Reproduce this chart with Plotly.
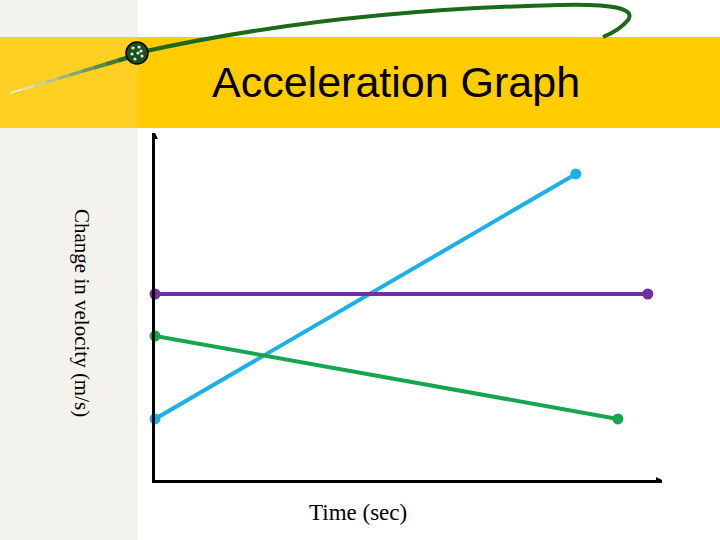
import plotly.graph_objects as go
import numpy as np

# ---- data ----
series_names = ["Increasing", "Constant", "Decreasing"]
time_blue = [0, 8.3]
vel_blue = [1.76, 8.82]
time_purple = [0, 9.72]
vel_purple = [5.36, 5.36]
time_green = [0, 9.13]
vel_green = [4.15, 1.76]

title_text = "Acceleration Graph"
x_label = "Time (sec)"
y_label = "Change in velocity (m/s)"

W, H = 720, 540

fig = go.Figure()

line_w = 4
fig.add_trace(go.Scatter(x=time_blue, y=vel_blue, mode="lines+markers", name=series_names[0],
                         line=dict(color="#1cb0e8", width=line_w), marker=dict(size=11, color="#1cb0e8"),
                         cliponaxis=False))
fig.add_trace(go.Scatter(x=time_purple, y=vel_purple, mode="lines+markers", name=series_names[1],
                         line=dict(color="#7030a0", width=line_w), marker=dict(size=11, color="#7030a0"),
                         cliponaxis=False))
fig.add_trace(go.Scatter(x=time_green, y=vel_green, mode="lines+markers", name=series_names[2],
                         line=dict(color="#16a650", width=line_w), marker=dict(size=11, color="#16a650"),
                         cliponaxis=False))

shapes = []
# left patterned strip
shapes.append(dict(type="rect", xref="x2", yref="y2", x0=0, x1=138, y0=0, y1=540,
                   fillcolor="#f3f2ec", line=dict(width=0), layer="below"))
# yellow banner
shapes.append(dict(type="rect", xref="x2", yref="y2", x0=0, x1=720, y0=37, y1=128,
                   fillcolor="#ffcc00", line=dict(width=0), layer="below"))
shapes.append(dict(type="rect", xref="x2", yref="y2", x0=0, x1=138, y0=37, y1=128,
                   fillcolor="#fccf22", line=dict(width=0), layer="below"))

# swoosh: gradient tail
tail_pts = [(10, 93), (130, 57)]
nseg = 10
c0 = np.array([250, 248, 225]); c1 = np.array([30, 100, 30])
for i in range(nseg):
    t0, t1 = i / nseg, (i + 1) / nseg
    xa = tail_pts[0][0] + (tail_pts[1][0] - tail_pts[0][0]) * t0
    ya = tail_pts[0][1] + (tail_pts[1][1] - tail_pts[0][1]) * t0
    xb = tail_pts[0][0] + (tail_pts[1][0] - tail_pts[0][0]) * t1
    yb = tail_pts[0][1] + (tail_pts[1][1] - tail_pts[0][1]) * t1
    c = (c0 + (c1 - c0) * (t0 + t1) / 2).astype(int)
    shapes.append(dict(type="line", xref="x2", yref="y2", x0=xa, y0=ya, x1=xb, y1=yb,
                       line=dict(color=f"rgb({c[0]},{c[1]},{c[2]})", width=1.5 + 3 * t1), layer="above"))
# swoosh main curve
shapes.append(dict(type="path", xref="x2", yref="y2",
                   path="M 137 53 Q 330 10 560 5 Q 640 3 628 20 Q 620 30 603 37",
                   line=dict(color="#1a6a1a", width=4), layer="above"))
# ball
shapes.append(dict(type="circle", xref="x2", yref="y2", x0=126, x1=148, y0=42, y1=64,
                   fillcolor="#1e4f1e", line=dict(color="#000000", width=1.5), layer="above"))
for (dx, dy) in [(-4, -5), (2, -6), (-5, 1), (1, 0), (5, 3), (-2, 6), (4, -2)]:
    shapes.append(dict(type="circle", xref="x2", yref="y2", x0=137 + dx - 1.6, x1=137 + dx + 1.6,
                       y0=53 + dy - 1.6, y1=53 + dy + 1.6, fillcolor="#d8f0d0",
                       line=dict(width=0), layer="above"))

annotations = [
    dict(text=title_text, x=396, y=82, xref="x2", yref="y2", showarrow=False,
         font=dict(family="Liberation Sans, Arial", size=43, color="black"), xanchor="center", yanchor="middle"),
    dict(text=x_label, x=358, y=512, xref="x2", yref="y2", showarrow=False,
         font=dict(family="Liberation Serif, Times New Roman", size=23, color="black"),
         xanchor="center", yanchor="middle"),
    dict(text=y_label, x=82, y=313, xref="x2", yref="y2", showarrow=False, textangle=90,
         font=dict(family="Liberation Serif, Times New Roman", size=21, color="black"),
         xanchor="center", yanchor="middle"),
    # small arrow tips at axis ends
    dict(x=0, y=10, xref="x", yref="y", ax=0, ay=6, showarrow=True, arrowhead=2,
         arrowsize=0.6, arrowwidth=2, arrowcolor="black", text=""),
    dict(x=10, y=0, xref="x", yref="y", ax=-6, ay=0, showarrow=True, arrowhead=2,
         arrowsize=0.6, arrowwidth=2, arrowcolor="black", text=""),
]

fig.update_layout(
    width=W, height=H, margin=dict(l=0, r=0, t=0, b=0),
    paper_bgcolor="white", plot_bgcolor="rgba(0,0,0,0)", showlegend=False,
    xaxis=dict(domain=[155 / W, 662 / W], range=[0, 10], showline=True, linecolor="black", linewidth=3,
               showgrid=False, zeroline=False, showticklabels=False, ticks="", fixedrange=True, anchor="y"),
    yaxis=dict(domain=[1 - 480 / H, 1 - 133 / H], range=[0, 10], showline=True, linecolor="black", linewidth=3,
               showgrid=False, zeroline=False, showticklabels=False, ticks="", fixedrange=True, anchor="x"),
    xaxis2=dict(domain=[0, 1], range=[0, W], visible=False, anchor="y2", fixedrange=True),
    yaxis2=dict(domain=[0, 1], range=[H, 0], visible=False, anchor="x2", fixedrange=True),
    shapes=shapes, annotations=annotations,
)
fig.add_trace(go.Scatter(x=[0], y=[0], xaxis="x2", yaxis="y2", mode="markers",
                         marker=dict(size=1, opacity=0), hoverinfo="skip"))

fig.write_html("out.html", config={"displayModeBar": False},
               post_script="document.body.style.margin='0';document.body.style.overflow='hidden';")
